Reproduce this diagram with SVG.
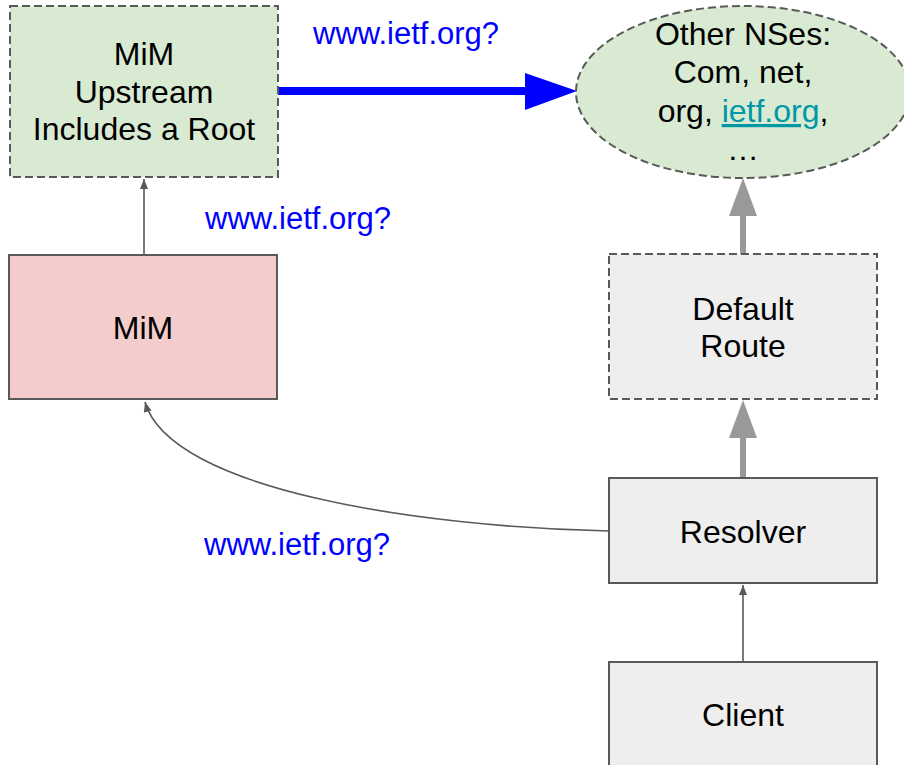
<svg xmlns="http://www.w3.org/2000/svg" width="904" height="765" viewBox="0 0 904 765">
<defs>
<style>
text{font-family:"Liberation Sans",Arial,sans-serif;font-size:32px;}
.t{fill:#000;text-anchor:middle;}
.lbl{fill:#0000ff;font-size:31px;}
.box{stroke:#595959;stroke-width:2;}
.dash{stroke-dasharray:8,4;}
.thin{fill:none;stroke:#595959;stroke-width:1.6;}
.grey{fill:none;stroke:#999999;stroke-width:6;}
</style>
<marker id="ah" markerWidth="10" markerHeight="10" viewBox="0 0 10 10" refX="10" refY="5" orient="auto" markerUnits="userSpaceOnUse">
<path d="M0,1 L10,5 L0,9 Z" fill="#595959"/>
</marker>
</defs>
<rect width="904" height="765" fill="#ffffff"/>
<g id="connectors">
<line class="thin" x1="144" y1="255" x2="144" y2="179" marker-end="url(#ah)"/>
<line class="thin" x1="743" y1="662" x2="743" y2="585" marker-end="url(#ah)"/>
<path class="thin" d="M609,531 C420,527 170,490 145,402" marker-end="url(#ah)"/>
<line x1="278" y1="91" x2="526" y2="91" stroke="#0000ff" stroke-width="8"/>
<path d="M525,73 L577,91 L525,110 Z" fill="#0000ff"/>
<line class="grey" x1="743" y1="478" x2="743" y2="436"/>
<path d="M729,438 L743,400 L757,438 Z" fill="#999999"/>
<line class="grey" x1="743" y1="254" x2="743" y2="214"/>
<path d="M729,216 L743,178 L757,216 Z" fill="#999999"/>
<text class="lbl" x="313" y="44">www.ietf.org?</text>
<text class="lbl" x="205" y="229">www.ietf.org?</text>
<text class="lbl" x="204" y="555">www.ietf.org?</text>
</g>
<g id="upstream">
<rect class="box dash" x="10" y="6" width="268" height="171" fill="#d9ead3"/>
<text class="t" x="144" y="65">MiM</text>
<text class="t" x="144" y="103">Upstream</text>
<text class="t" x="144" y="140">Includes a Root</text>
</g>
<g id="mim">
<rect class="box" x="9" y="255" width="268" height="144" fill="#f4cccc"/>
<text class="t" x="143" y="339">MiM</text>
</g>
<g id="otherns">
<ellipse class="box dash" cx="743" cy="92" rx="167" ry="86" fill="#d9ead3"/>
<text class="t" x="743" y="45">Other NSes:</text>
<text class="t" x="743" y="83">Com, net,</text>
<text class="t" x="743" y="122">org, <tspan fill="#0097a7" text-decoration="underline">ietf.org</tspan>,</text>
<text class="t" x="743" y="160">…</text>
</g>
<g id="defaultroute">
<rect class="box dash" x="609" y="254" width="268" height="145" fill="#eeeeee"/>
<text class="t" x="743" y="320">Default</text>
<text class="t" x="743" y="357">Route</text>
</g>
<g id="resolver">
<rect class="box" x="609" y="478" width="268" height="105" fill="#eeeeee"/>
<text class="t" x="743" y="543">Resolver</text>
</g>
<g id="client">
<rect class="box" x="609" y="662" width="268" height="110" fill="#eeeeee"/>
<text class="t" x="743" y="726">Client</text>
</g>
</svg>
